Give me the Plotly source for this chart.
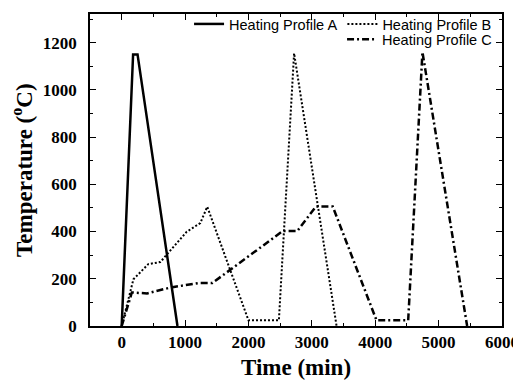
import plotly.graph_objects as go

# Heating Profile A
time_a = [0, 180, 250, 880]
temp_a = [0, 1150, 1150, 0]

# Heating Profile B
time_b = [0, 185, 420, 610, 1025, 1240, 1350, 2000, 2480, 2720, 3390]
temp_b = [0, 198, 262, 271, 399, 436, 505, 24, 24, 1155, 0]

# Heating Profile C
time_c = [0, 160, 400, 770, 1220, 1430, 2540, 2770, 3065, 3330, 4020, 4520, 4745, 5450]
temp_c = [0, 142, 138, 163, 182, 182, 402, 402, 506, 506, 24, 24, 1160, 0]

x_ticks = [0, 1000, 2000, 3000, 4000, 5000, 6000]
y_ticks = [0, 200, 400, 600, 800, 1000, 1200]

fig = go.Figure()
fig.add_trace(go.Scatter(x=time_a, y=temp_a, mode="lines", name="Heating Profile A",
                         line=dict(color="black", width=2.5), legend="legend"))
fig.add_trace(go.Scatter(x=time_b, y=temp_b, mode="lines", name="Heating Profile B",
                         line=dict(color="black", width=2, dash="2px,2px"), legend="legend"))
fig.add_trace(go.Scatter(x=time_c, y=temp_c, mode="lines", name="Heating Profile C",
                         line=dict(color="black", width=2.5, dash="7px,3px,2px,3px"), legend="legend2"))

axis_common = dict(
    showline=True, linecolor="black", linewidth=1.5, mirror="ticks",
    ticks="inside", ticklen=6, tickwidth=1.2, tickcolor="black",
    showgrid=False, zeroline=False, automargin=False,
    tickfont=dict(family="Liberation Serif", size=17, color="black"),
)

fig.update_xaxes(
    range=[-500, 6000], tickvals=x_ticks, ticktext=[f"<b>{v}</b>" for v in x_ticks],
    minor=dict(dtick=500, tick0=0, ticks="inside", ticklen=3, tickcolor="black"),
    title=dict(text="<b>Time (min)</b>", standoff=8,
               font=dict(family="Liberation Serif", size=23, color="black")),
    **axis_common,
)
fig.update_yaxes(
    range=[0, 1320], tickvals=y_ticks, ticktext=[f"<b>{v}</b>" for v in y_ticks],
    domain=[0, 0.9802],
    minor=dict(dtick=100, tick0=0, ticks="inside", ticklen=3, tickcolor="black"),
    ticklabelstandoff=8,
    title=dict(text="<b>Temperature (<sup>o</sup>C)</b>", standoff=8,
               font=dict(family="Liberation Serif", size=23, color="black")),
    **axis_common,
)

legend_common = dict(
    orientation="h", xanchor="right", x=0.988, yanchor="top",
    bgcolor="rgba(0,0,0,0)", borderwidth=0,
    font=dict(family="Liberation Sans", size=14.5, color="black"),
    itemwidth=30, tracegroupgap=0,
)

# page body adds an 8px offset, so the figure is sized to fit the window
fig.update_layout(
    width=513, height=378,
    margin=dict(l=82, r=19, t=0, b=60),
    paper_bgcolor="white", plot_bgcolor="white",
    legend=dict(y=1.0, **legend_common),
    legend2=dict(y=0.952, **legend_common),
    showlegend=True,
)

fig.write_html("out.html")
